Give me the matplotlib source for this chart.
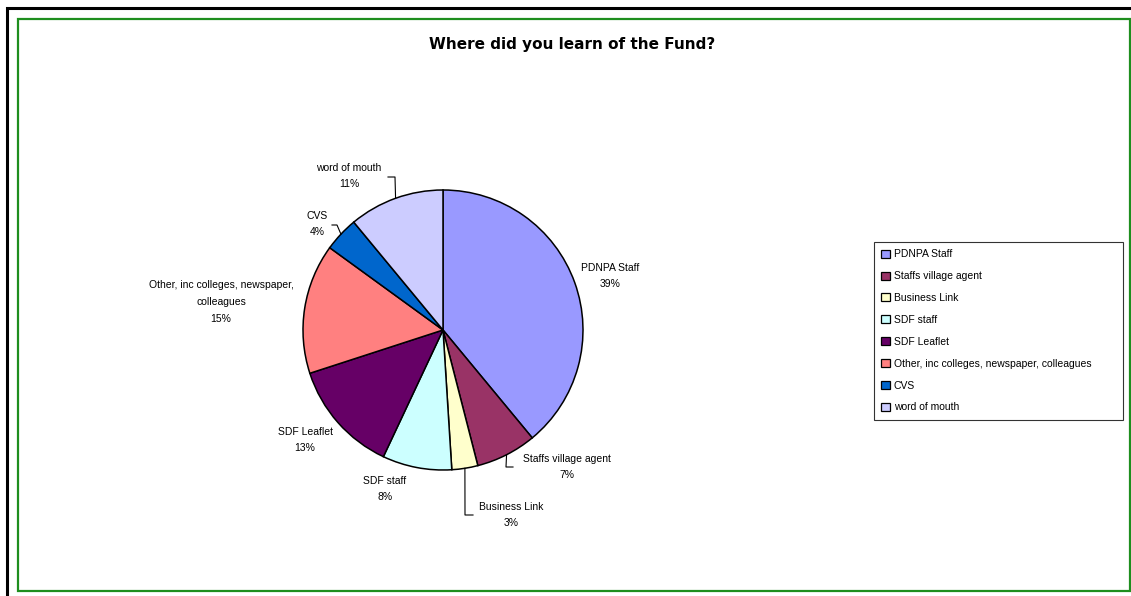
import matplotlib.pyplot as plt
from matplotlib.patches import Rectangle
from matplotlib.lines import Line2D
import numpy as np

plt.rcParams['font.family'] = ['Liberation Sans', 'DejaVu Sans']

# answers to the survey question
sources = ["PDNPA Staff", "Staffs village agent", "Business Link", "SDF staff",
           "SDF Leaflet", "Other, inc colleges, newspaper, colleagues", "CVS",
           "word of mouth"]
percents = [39, 7, 3, 8, 13, 15, 4, 11]
colours = ["#9999FF", "#993366", "#FFFFCC", "#CCFFFF", "#660066", "#FF8080",
           "#0066CC", "#CCCCFF"]

# label text and where it sits (pixels from top left)
label_text = ["PDNPA Staff", "Staffs village agent", "Business Link", "SDF staff",
              "SDF Leaflet", "Other, inc colleges, newspaper,\ncolleagues", "CVS",
              "word of mouth"]
label_pos = [(610, 276), (567, 467), (511, 515), (385, 489),
             (305, 440), (221, 302), (317, 224), (349, 176)]
# elbow leader lines: points after the wedge edge, or None
leader_end = [None, ((506, 467), (513, 467)), ((465, 515), (473, 515)), None,
              None, None, ((337, 225), (332, 225)), ((395, 177), (388, 177))]

W, H = 1131, 596
fig = plt.figure(figsize=(W / 100, H / 100), dpi=100)

# outer black frame and green chart area
fig.patches.append(Rectangle((7 / W, -0.1), 1.2, (596 - 7.5) / H + 0.1,
                             transform=fig.transFigure, fill=False,
                             edgecolor="black", lw=2.2))
fig.patches.append(Rectangle((17.5 / W, 5 / H), (1129.5 - 17.5) / W, (591 - 18.5) / H,
                             transform=fig.transFigure, fill=False,
                             edgecolor="#1E8E1E", lw=1.6))

cx, cy, r = 443, 330, 140
ax = fig.add_axes([(cx - r) / W, (H - cy - r) / H, 2 * r / W, 2 * r / H])
wedges, _ = ax.pie(percents, colors=colours, startangle=90, counterclock=False,
                   wedgeprops=dict(edgecolor="black", linewidth=1.1))
ax.set_xlim(-1, 1)
ax.set_ylim(-1, 1)
ax.set_aspect("equal")
ax.axis("off")


def to_data(px, py):
    return (px - cx) / r, (cy - py) / r


for w, txt, pct, (lx, ly), lead in zip(wedges, label_text, percents, label_pos, leader_end):
    x, y = to_data(lx, ly)
    ax.text(x, y, "%s\n%d%%" % (txt, pct), ha="center", va="center",
            fontsize=7.5, linespacing=1.85, clip_on=False)
    if lead is not None:
        ang = np.deg2rad((w.theta1 + w.theta2) / 2)
        pts = [(np.cos(ang), np.sin(ang))] + [to_data(*p) for p in lead]
        xs, ys = zip(*pts)
        ax.add_line(Line2D(xs, ys, color="black", lw=0.8, clip_on=False))

fig.text(572 / W, 1 - 44 / H, "Where did you learn of the Fund?", ha="center",
         va="center", fontsize=11, fontweight="bold", family="DejaVu Sans")

leg_top = 1 - 242 / H
leg = fig.legend(wedges, sources, loc="upper left",
                 bbox_to_anchor=(874 / W, leg_top - 0.01, (1123 - 874) / W, 0.01),
                 mode="expand", fontsize=7.5,
                 frameon=True, fancybox=False, edgecolor="black",
                 handlelength=0.8, handleheight=0.8, handletextpad=0.4,
                 labelspacing=1.14, borderpad=0.7, borderaxespad=0)
leg.get_frame().set_linewidth(0.8)
for h in leg.legend_handles:
    h.set_linewidth(0.9)

fig.savefig("out.png", dpi=100)
